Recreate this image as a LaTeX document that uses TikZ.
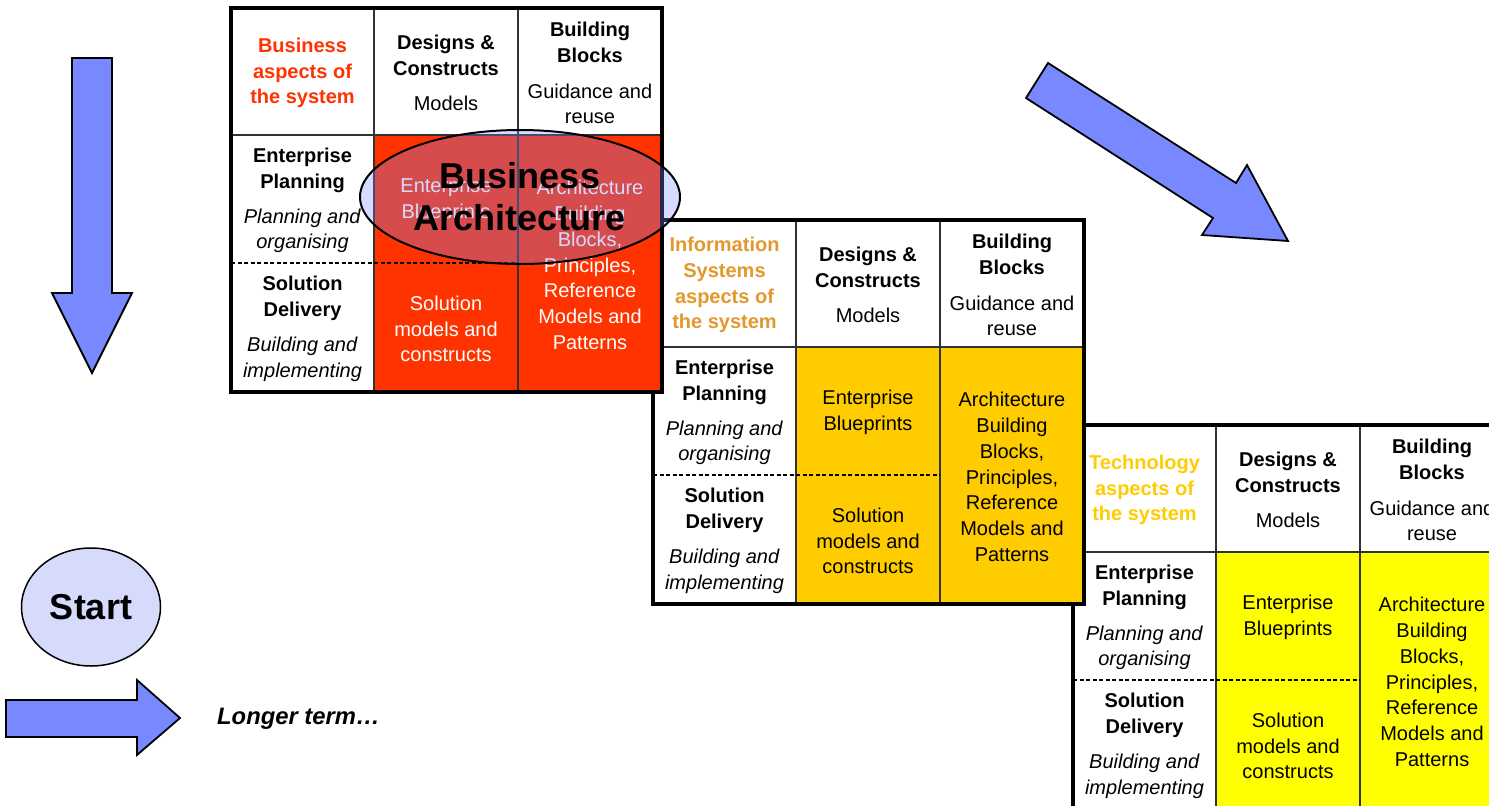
\documentclass[tikz,border=0pt]{standalone}
\usepackage{fontspec}
\setmainfont{Liberation Sans}
\usetikzlibrary{shapes.geometric}
\definecolor{arrowblue}{RGB}{120,136,255}
\definecolor{bizred}{RGB}{255,51,0}
\definecolor{isorange}{RGB}{227,152,45}
\definecolor{isfill}{RGB}{255,204,0}
\definecolor{techtitle}{RGB}{255,204,0}
\definecolor{techfill}{RGB}{255,255,0}
\definecolor{gridline}{RGB}{50,50,50}
\definecolor{startfill}{RGB}{214,219,252}
\tikzset{
  outerframe/.style={line width=3.5pt, draw=black},
  innerline/.style={line width=1.3pt, draw=gridline},
  splitline/.style={line width=1.3pt, draw=black, dash pattern=on 4pt off 2.5pt},
  cell/.style={align=center, inner sep=0pt, yshift=-1.5pt, font=\fontsize{20}{25.8}\selectfont},
  bigarrow/.style={draw=black, line width=1.8pt, fill=arrowblue, line join=miter},
}
\newcommand\ArchGrid[7]{%
\begin{scope}[shift={(#1,#2)}]
  \fill[white] (0,0) rectangle (431,384);
  \fill[#6] (143,127) rectangle (431,384);
  \draw[innerline] (143,0) -- (143,384) (287,0) -- (287,384) (0,127) -- (431,127);
  \draw[splitline] (0,255) -- (287,255);
  \draw[outerframe] (0,0) rectangle (431,384);
  \node[cell, text=#5] (#3t) at (71.5,63.5) {#4};
  \node[cell] (#3dc) at (215,63.5) {\textbf{Designs \&}\\\textbf{Constructs}\\[10pt]Models};
  \node[cell] (#3bb) at (359,63.5) {\textbf{Building}\\\textbf{Blocks}\\[10pt]Guidance and\\reuse};
  \node[cell] (#3ep) at (71.5,191) {\textbf{Enterprise}\\\textbf{Planning}\\[9pt]\textit{Planning and}\\\textit{organising}};
  \node[cell] (#3sd) at (71.5,319.5) {\textbf{Solution}\\\textbf{Delivery}\\[9pt]\textit{Building and}\\\textit{implementing}};
  \node[cell, text=#7] (#3eb) at (215,191) {Enterprise\\Blueprints};
  \node[cell, text=#7] (#3sm) at (215,319.5) {Solution\\models and\\constructs};
  \node[cell, text=#7] (#3ab) at (359,255.5) {Architecture\\Building\\Blocks,\\Principles,\\Reference\\Models and\\Patterns};
\end{scope}}
\begin{document}
\begin{tikzpicture}[x=1pt,y=-1pt]
\useasboundingbox (0,0) rectangle (1489,806);
\clip (0,0) rectangle (1489,806);
\fill[white] (0,0) rectangle (1489,806);

% arrows
\draw[bigarrow] (72,58) -- (112,58) -- (112,293) -- (132,293) -- (92,373) -- (52,293) -- (72,293) -- cycle;
\draw[bigarrow] (6,700) -- (137,700) -- (137,680) -- (180,718) -- (137,755) -- (137,737) -- (6,737) -- cycle;
\draw[bigarrow] (1048,63) -- (1236,183) -- (1247,165) -- (1288,241) -- (1202,235) -- (1213,218) -- (1026,98) -- cycle;

% grids (back to front)
\ArchGrid{1073}{425}{g3}{\textbf{Technology}\\\textbf{aspects of}\\\textbf{the system}}{techtitle}{techfill}{black}
\ArchGrid{653}{220}{g2}{\textbf{Information}\\\textbf{Systems}\\\textbf{aspects of}\\\textbf{the system}}{isorange}{isfill}{black}
\ArchGrid{231}{8}{g1}{\textbf{Business}\\\textbf{aspects of}\\\textbf{the system}}{bizred}{bizred}{white}

% Business Architecture overlay
\node[ellipse, draw=black, line width=2pt, fill=arrowblue, fill opacity=0.3, text opacity=1,
      minimum width=320pt, minimum height=134pt, inner sep=0pt, align=center,
      font=\fontsize{36}{42}\selectfont\bfseries] (ba) at (520,197) {Business\\Architecture};

% Start and legend
\node[ellipse, draw=black, line width=1.5pt, fill=startfill, minimum width=139pt, minimum height=118pt,
      inner sep=0pt, font=\fontsize{36}{40}\selectfont\bfseries] (start) at (91,607) {Start};
\node[anchor=west, inner sep=0pt, font=\fontsize{23.8}{28}\selectfont\bfseries\itshape] (longer) at (217,719) {Longer term…};
\end{tikzpicture}
\end{document}
